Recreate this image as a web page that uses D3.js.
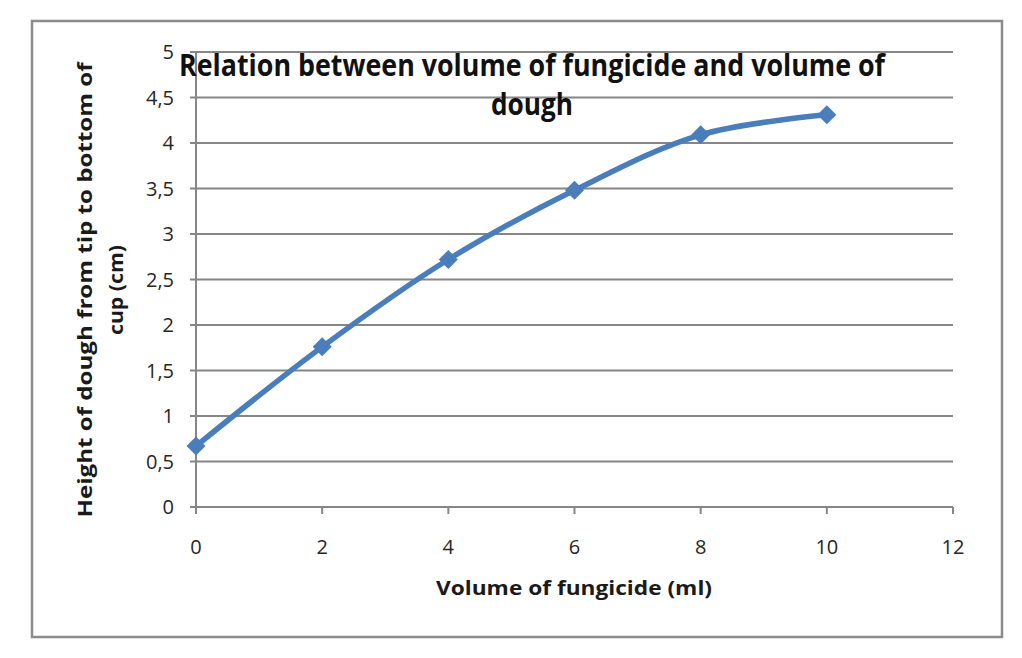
<!DOCTYPE html>
<html>
<head>
<meta charset="utf-8">
<script src="https://cdn.jsdelivr.net/npm/d3@7"></script>
<style>
  body { margin: 0; background: #fff; }
  text { font-family: "Open Sans", "Noto Sans", sans-serif; }
  .tick-label { font-size: 20px; fill: #262626; }
  .axis-title { font-size: 20px; font-weight: bold; fill: #1a1a1a; }
  .title { font-size: 30px; font-weight: bold; fill: #111; }
</style>
</head>
<body>
<div id="chart"></div>
<script>
var width = 1022;
var height = 658;

// data
var volumes = [0, 2, 4, 6, 8, 10];          // ml
var heights = [0.67, 1.76, 2.72, 3.48, 4.09, 4.31]; // cm
var xTicks = [0, 2, 4, 6, 8, 10, 12];
var yTicks = [0, 0.5, 1, 1.5, 2, 2.5, 3, 3.5, 4, 4.5, 5];

var COLOR_LINE = '#4a7ebb';
var COLOR_GRID = '#868686';

var plot = { left: 196, right: 953, top: 52, bottom: 507 };

var svg = d3.select('#chart')
    .append('svg')
    .attr('width', width)
    .attr('height', height);

// outer frame
svg.append('rect')
    .attr('x', 32).attr('y', 21)
    .attr('width', 970).attr('height', 616)
    .attr('fill', '#fff')
    .attr('stroke', '#8c8c8c')
    .attr('stroke-width', 2.5);

var x = d3.scaleLinear().domain([0, 12]).range([plot.left, plot.right]);
var y = d3.scaleLinear().domain([0, 5]).range([plot.bottom, plot.top]);

var fmt = function (d) { return String(d).replace('.', ','); };

// horizontal gridlines + y ticks
svg.append('g').selectAll('line')
    .data(yTicks)
    .enter().append('line')
    .attr('x1', plot.left - 6)
    .attr('x2', plot.right)
    .attr('y1', function (d) { return y(d); })
    .attr('y2', function (d) { return y(d); })
    .attr('stroke', COLOR_GRID)
    .attr('stroke-width', 2);

svg.append('g').selectAll('text')
    .data(yTicks)
    .enter().append('text')
    .attr('class', 'tick-label')
    .attr('x', plot.left - 22)
    .attr('y', function (d) { return y(d); })
    .attr('dy', '0.35em')
    .attr('text-anchor', 'end')
    .text(fmt);

// y axis line
svg.append('line')
    .attr('x1', plot.left).attr('x2', plot.left)
    .attr('y1', plot.top).attr('y2', plot.bottom + 6)
    .attr('stroke', COLOR_GRID)
    .attr('stroke-width', 2);

// x ticks
svg.append('g').selectAll('line')
    .data(xTicks)
    .enter().append('line')
    .attr('x1', function (d) { return x(d); })
    .attr('x2', function (d) { return x(d); })
    .attr('y1', plot.bottom)
    .attr('y2', plot.bottom + 7)
    .attr('stroke', COLOR_GRID)
    .attr('stroke-width', 2);

svg.append('g').selectAll('text')
    .data(xTicks)
    .enter().append('text')
    .attr('class', 'tick-label')
    .attr('x', function (d) { return x(d); })
    .attr('y', 547)
    .attr('dy', '0.35em')
    .attr('text-anchor', 'middle')
    .text(fmt);

// series
var points = volumes.map(function (v, i) { return [v, heights[i]]; });

svg.append('path')
    .datum(points)
    .attr('fill', 'none')
    .attr('stroke', COLOR_LINE)
    .attr('stroke-width', 5.5)
    .attr('stroke-linecap', 'round')
    .attr('d', d3.line()
        .x(function (d) { return x(d[0]); })
        .y(function (d) { return y(d[1]); })
        .curve(d3.curveCatmullRom.alpha(0.5)));

svg.append('g').selectAll('path')
    .data(points)
    .enter().append('path')
    .attr('d', d3.symbol().type(d3.symbolDiamond2).size(230))
    .attr('transform', function (d) { return 'translate(' + x(d[0]) + ',' + y(d[1]) + ')'; })
    .attr('fill', COLOR_LINE);

// title
svg.append('text')
    .attr('class', 'title')
    .attr('x', 532).attr('y', 76)
    .attr('text-anchor', 'middle')
    .attr('textLength', 706)
    .attr('lengthAdjust', 'spacingAndGlyphs')
    .text('Relation between volume of fungicide and volume of');

svg.append('text')
    .attr('class', 'title')
    .attr('x', 532).attr('y', 115)
    .attr('text-anchor', 'middle')
    .attr('textLength', 82)
    .attr('lengthAdjust', 'spacingAndGlyphs')
    .text('dough');

// axis titles
svg.append('text')
    .attr('class', 'axis-title')
    .attr('x', 574).attr('y', 595)
    .attr('text-anchor', 'middle')
    .attr('textLength', 276)
    .attr('lengthAdjust', 'spacingAndGlyphs')
    .text('Volume of fungicide (ml)');

var yTitle = svg.append('g')
    .attr('transform', 'translate(92,290) rotate(-90)');
yTitle.append('text')
    .attr('class', 'axis-title')
    .attr('x', 0).attr('y', 0)
    .attr('text-anchor', 'middle')
    .attr('textLength', 455)
    .attr('lengthAdjust', 'spacingAndGlyphs')
    .text('Height of dough from tip to bottom  of');
yTitle.append('text')
    .attr('class', 'axis-title')
    .attr('x', 0).attr('y', 31)
    .attr('text-anchor', 'middle')
    .attr('textLength', 90)
    .attr('lengthAdjust', 'spacingAndGlyphs')
    .text('cup (cm)');
</script>
</body>
</html>
